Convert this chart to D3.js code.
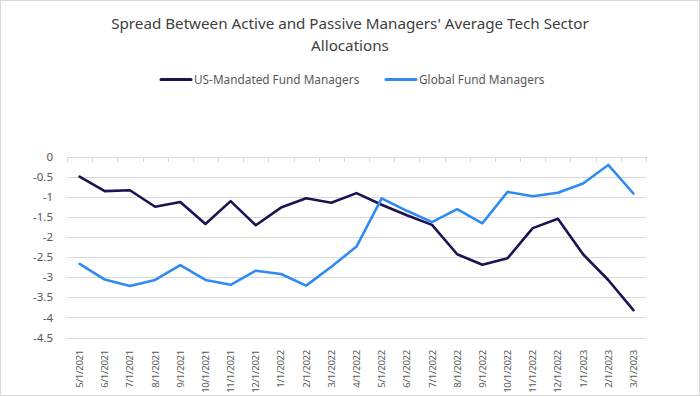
<!DOCTYPE html>
<html>
<head>
<meta charset="utf-8">
<script src="https://cdn.jsdelivr.net/npm/d3@7"></script>
<style>
  body { margin: 0; background: #fff; }
  text { font-family: "Noto Sans", Lato, sans-serif; }
</style>
</head>
<body>
<script>
// chart data
const months = ["5/1/2021","6/1/2021","7/1/2021","8/1/2021","9/1/2021","10/1/2021","11/1/2021","12/1/2021",
  "1/1/2022","2/1/2022","3/1/2022","4/1/2022","5/1/2022","6/1/2022","7/1/2022","8/1/2022","9/1/2022",
  "10/1/2022","11/1/2022","12/1/2022","1/1/2023","2/1/2023","3/1/2023"];
const usMandated = [-0.5,-0.86,-0.84,-1.25,-1.13,-1.68,-1.11,-1.71,-1.27,-1.04,-1.15,-0.91,
  -1.2,-1.46,-1.7,-2.43,-2.69,-2.53,-1.78,-1.55,-2.43,-3.07,-3.82];
const globalFund = [-2.67,-3.06,-3.22,-3.07,-2.7,-3.07,-3.19,-2.84,-2.92,-3.21,-2.74,-2.24,
  -1.04,-1.35,-1.63,-1.31,-1.66,-0.88,-0.99,-0.9,-0.67,-0.21,-0.92];
const yTicks = [0,-0.5,-1,-1.5,-2,-2.5,-3,-3.5,-4,-4.5];
const seriesNames = ["US-Mandated Fund Managers", "Global Fund Managers"];
const colors = ["#1c1252", "#2f8bf2"];

let w = 700;
let h = 397;

var svg = d3.select("body")
  .append("svg")
  .attr("width", w)
  .attr("height", h);

// frame
svg.append("rect")
  .attr("x", 0.5).attr("y", 0.5)
  .attr("width", w - 1).attr("height", h - 2)
  .attr("fill", "#fff")
  .attr("stroke", "#d9d9d9");

let plotLeft = 67, plotRight = 646, plotTop = 156.5, plotBottom = 337.5;

var x = d3.scaleBand().domain(months).range([plotLeft, plotRight]);
var y = d3.scaleLinear().domain([-4.5, 0]).range([plotBottom, plotTop]);

// title
svg.append("text")
  .attr("x", 350).attr("y", 29)
  .attr("text-anchor", "middle")
  .attr("font-size", 15.2)
  .attr("fill", "#404040")
  .text("Spread Between Active and Passive Managers' Average Tech Sector");
svg.append("text")
  .attr("x", 350).attr("y", 51)
  .attr("text-anchor", "middle")
  .attr("font-size", 15.2)
  .attr("fill", "#404040")
  .text("Allocations");

// legend
var legendX = [161, 386];
seriesNames.forEach(function(name, i) {
  svg.append("line")
    .attr("x1", legendX[i]).attr("x2", legendX[i] + 30)
    .attr("y1", 79.5).attr("y2", 79.5)
    .attr("stroke", colors[i])
    .attr("stroke-width", 3)
    .attr("stroke-linecap", "round");
  svg.append("text")
    .attr("x", legendX[i] + 33).attr("y", 83.5)
    .attr("font-size", 11.8)
    .attr("fill", "#595959")
    .text(name);
});

// gridlines
svg.append("g")
  .selectAll("line")
  .data(yTicks)
  .enter()
  .append("line")
  .attr("x1", plotLeft).attr("x2", plotRight)
  .attr("y1", d => Math.round(y(d)) + 0.5)
  .attr("y2", d => Math.round(y(d)) + 0.5)
  .attr("stroke", "#d9d9d9")
  .attr("stroke-width", 1);

// y axis labels
var yAxis = d3.axisLeft(y).tickValues(yTicks).tickSize(0).tickPadding(0)
  .tickFormat(d => d3.format("")(d).replace("−", "-"));
svg.append("g")
  .attr("transform", "translate(53,0)")
  .call(yAxis)
  .call(g => g.select(".domain").remove())
  .call(g => g.selectAll("text")
    .attr("font-size", 11.5)
    .attr("fill", "#595959")
    .attr("font-family", '"Noto Sans", Lato, sans-serif'));

// category ticks on zero line
var boundaries = months.map(m => x(m)).concat([plotRight]);
svg.append("g")
  .selectAll("line")
  .data(boundaries)
  .enter()
  .append("line")
  .attr("x1", d => Math.round(d) + 0.5).attr("x2", d => Math.round(d) + 0.5)
  .attr("y1", Math.round(y(0)))
  .attr("y2", Math.round(y(0)) + 5)
  .attr("stroke", "#d9d9d9");

// x labels
svg.append("g")
  .selectAll("text")
  .data(months)
  .enter()
  .append("text")
  .attr("transform", d => "translate(" + (x(d) + x.bandwidth() / 2 + 3.5) + ",350) rotate(-90)")
  .attr("text-anchor", "end")
  .attr("font-size", 9.6)
  .attr("letter-spacing", -0.3)
  .attr("font-family", 'Roboto, sans-serif')
  .attr("fill", "#595959")
  .text(d => d);

// lines
var line = d3.line()
  .x((d, i) => x(months[i]) + x.bandwidth() / 2)
  .y(d => y(d));

[usMandated, globalFund].forEach(function(series, i) {
  svg.append("path")
    .datum(series)
    .attr("d", line)
    .attr("fill", "none")
    .attr("stroke", colors[i])
    .attr("stroke-width", 2.6)
    .attr("stroke-linejoin", "round")
    .attr("stroke-linecap", "round");
});
</script>
</body>
</html>
